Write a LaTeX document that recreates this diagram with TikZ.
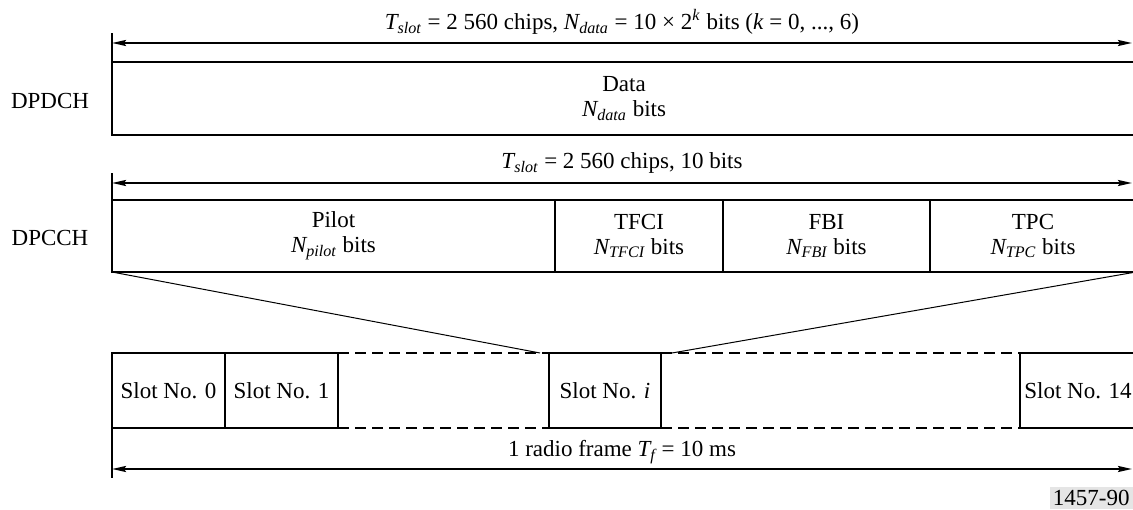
\documentclass[tikz,border=0pt]{standalone}
\usepackage{amsmath}
\usepackage{fontspec}
\setmainfont{Liberation Serif}
\usetikzlibrary{arrows.meta,calc,positioning}

\newcommand{\qsub}[2]{$\textit{#1}_{\textit{#2}}$}

\begin{document}
\begin{tikzpicture}[x=0.5pt, y=0.5pt,
  >={Stealth[length=7pt,width=3pt,inset=1pt]},
  every node/.style={font=\fontsize{11.5}{12.5}\selectfont},
  field/.style={draw, line width=1pt, inner sep=0pt, outer sep=0pt, align=center, minimum height=36pt},
  slotbox/.style={draw, line width=1pt, inner sep=0pt, outer sep=0pt, minimum height=37.5pt},
  dim/.style={<->, line width=1pt},
  tick/.style={line width=0.8pt},
  gap/.style={dash pattern=on 5.5pt off 3pt, line width=1pt}]
  \useasboundingbox (0,0) rectangle (1133,509);

  % DPDCH
  \node[field, minimum width=512pt, minimum height=36.5pt] (data) at (624,410.5) {Data\\\qsub{N}{data} bits};
  \node (dpdch) at (50,408) {DPDCH};
  \draw[tick] (data.north west) -- ++(0,29);
  \coordinate (dl) at ($(data.north west)+(0,19)$);
  \coordinate (dr) at ($(data.north east)+(-4,19)$);
  \draw[dim] (dl) -- (dr);
  \node (dlab) at (622,487) {\qsub{T}{slot} = 2 560 chips, \qsub{N}{data} = 10 × 2\textsuperscript{\textit{k}} bits (\textit{k} = 0, ..., 6)};

  % DPCCH
  \node[field, minimum width=221.5pt] (pilot) at (333.5,273) {Pilot\\\qsub{N}{pilot} bits};
  \node[field, minimum width=84pt] (tfci) at (639,273) {TFCI\\\qsub{N}{TFCI} bits};
  \node[field, minimum width=103.5pt] (fbi) at (826.5,273) {FBI\\\qsub{N}{FBI} bits};
  \node[field, minimum width=103pt] (tpc) at (1033,273) {TPC\\\qsub{N}{TPC} bits};
  \node (dpcch) at (50,271) {DPCCH};
  \draw[tick] (pilot.north west) -- ++(0,27);
  \coordinate (cl) at ($(pilot.north west)+(0,17)$);
  \coordinate (cr) at ($(tpc.north east)+(-4,17)$);
  \draw[dim] (cl) -- (cr);
  \node (clab) at (622,346) {\qsub{T}{slot} = 2 560 chips, 10 bits};

  % radio frame
  \node[slotbox, minimum width=56.5pt] (slot0) at (168.5,118.5) {Slot No. 0};
  \node[slotbox, minimum width=56.5pt] (slot1) at (281.5,118.5) {Slot No. 1};
  \node[slotbox, minimum width=56pt] (sloti) at (605,118.5) {Slot No. \textit{i}};
  \node[slotbox, minimum width=58pt] (slot14) at (1078,118.5) {Slot No. 14};
  \draw[gap] (slot1.north east) -- (sloti.north west);
  \draw[gap] (slot1.south east) -- (sloti.south west);
  \draw[gap] (sloti.north east) -- (slot14.north west);
  \draw[gap] (sloti.south east) -- (slot14.south west);
  \draw[tick] (slot0.south west) -- ++(0,-50);
  \coordinate (fl) at ($(slot0.south west)+(0,-41)$);
  \coordinate (fr) at ($(slot14.south east)+(-4,-41)$);
  \draw[dim] (fl) -- (fr);
  \node (flab) at (622,57) {1 radio frame \qsub{T}{f} = 10 ms};

  % zoom
  \coordinate (zl) at ($(sloti.north west)+(-9,0)$);
  \coordinate (zr) at ($(sloti.north east)+(11,0)$);
  \draw[line width=0.5pt] (pilot.south west) -- (zl);
  \draw[line width=0.5pt] (tpc.south east) -- (zr);

  \node[fill=gray!20, inner sep=1.5pt, anchor=south east] (fig) at (1133,0) {1457-90};
\end{tikzpicture}
\end{document}
